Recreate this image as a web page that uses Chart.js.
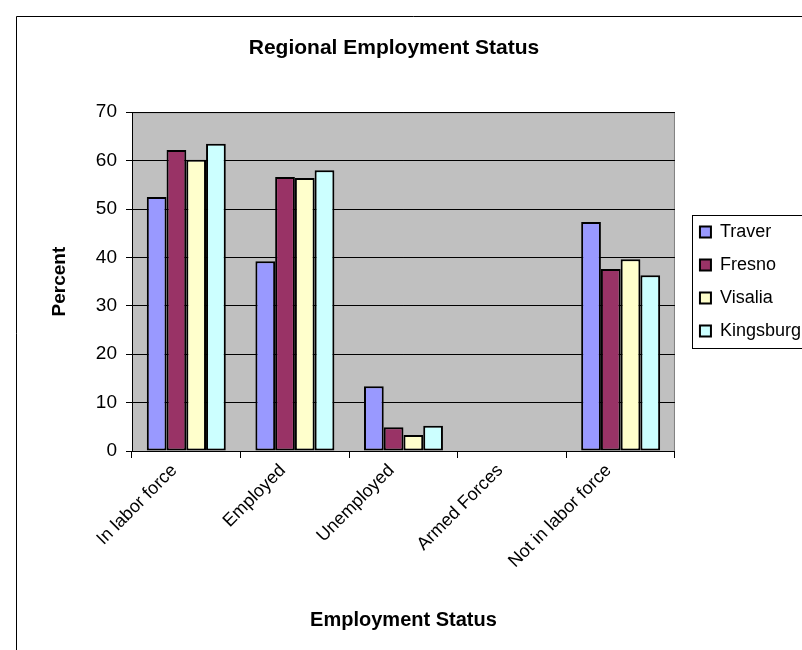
<!doctype html>
<html lang="en">
<head>
    <meta charset="utf-8">
    <title>Regional Employment Status</title>
    <script src="https://cdn.jsdelivr.net/npm/chart.js@4.4.1/dist/chart.umd.min.js"></script>
    <style>
        body {
            margin: 0;
            background: #fff;
        }

        #wrap {
            position: relative;
            width: 802px;
            height: 650px;
            overflow: hidden;
        }

        #chart {
            position: absolute;
            left: -23px;
            top: 0;
        }
    </style>
</head>
<body>
<div id="wrap">
    <canvas id="chart" width="834" height="650"></canvas>
</div>

<script>
    const categories = ['In labor force', 'Employed', 'Unemployed', 'Armed Forces', 'Not in labor force'];
    const traver = [52.5, 39.2, 13.4, 0, 47.3];
    const fresno = [62.2, 56.6, 4.9, 0, 37.6];
    const visalia = [60.2, 56.4, 3.3, 0, 39.6];
    const kingsburg = [63.5, 58.0, 5.2, 0, 36.3];
    const yTicks = {min: 0, max: 70, step: 10};

    const seriesNames = ['Traver', 'Fresno', 'Visalia', 'Kingsburg'];
    const seriesColors = ['#9999FF', '#993366', '#FFFFCC', '#CCFFFF'];
    const seriesValues = [traver, fresno, visalia, kingsburg];

    const shift = 23; // canvas sits 23px left of the page edge, so the title centres like the original

    Chart.defaults.font.family = "'Liberation Sans', Arial, sans-serif";
    Chart.defaults.color = '#000';

    // grey plot area, the outer chart frame and the legend box
    const backdrop = {
        id: 'backdrop',
        beforeDraw(chart) {
            const ctx = chart.ctx;
            const a = chart.chartArea;
            ctx.save();
            ctx.fillStyle = '#fff';
            ctx.fillRect(0, 0, chart.width, chart.height);
            ctx.strokeStyle = '#000';
            ctx.lineWidth = 1;
            ctx.beginPath();
            ctx.moveTo(shift + 16.5, chart.height);
            ctx.lineTo(shift + 16.5, 16.5);
            ctx.lineTo(chart.width, 16.5);
            ctx.stroke();
            ctx.fillStyle = '#C0C0C0';
            ctx.fillRect(a.left, a.top, a.right - a.left, a.bottom - a.top);
            ctx.strokeStyle = '#808080';
            ctx.strokeRect(a.left + 0.5, a.top + 0.5, a.right - a.left - 1, a.bottom - a.top);
            ctx.restore();
        },
        afterDraw(chart) {
            const lg = chart.legend;
            const pad = lg.options.labels.padding;
            const colH = lg.columnSizes[0].height;
            const top = (lg.top + pad + lg.bottom - colH) / 2;
            const ctx = chart.ctx;
            ctx.save();
            ctx.strokeStyle = '#000';
            ctx.lineWidth = 1;
            ctx.strokeRect(Math.round(lg.left + pad - 8) + 0.5, Math.round(top - 8) + 0.5,
                200, Math.round(colH - pad + 16));
            ctx.restore();
        }
    };

    const datasets = seriesNames.map(function (name, i) {
        return {
            label: name,
            data: seriesValues[i],
            yAxisID: 'y',
            backgroundColor: seriesColors[i],
            borderColor: '#000',
            borderWidth: 2,
            borderSkipped: false,
            categoryPercentage: 4 / 5.5,
            barPercentage: 1
        };
    });

    const config = {
        type: 'bar',
        data: {
            labels: categories,
            datasets: datasets
        },
        options: {
            responsive: false,
            animation: false,
            devicePixelRatio: 1,
            layout: {
                padding: 0
            },
            plugins: {
                title: {
                    display: true,
                    text: 'Regional Employment Status',
                    color: '#000',
                    font: {size: 21, weight: 'bold'},
                    padding: {top: 36, bottom: 51}
                },
                legend: {
                    position: 'right',
                    fullSize: false,
                    labels: {
                        boxWidth: 11,
                        boxHeight: 11,
                        padding: 15,
                        color: '#000',
                        font: {size: 18}
                    }
                },
                tooltip: {enabled: false}
            },
            scales: {
                x: {
                    grid: {
                        display: true,
                        drawOnChartArea: false,
                        drawTicks: true,
                        tickLength: 7,
                        color: '#000',
                        offset: true
                    },
                    border: {display: true, color: '#000'},
                    ticks: {
                        color: '#000',
                        font: {size: 18},
                        minRotation: 45,
                        maxRotation: 45,
                        padding: 2,
                        labelOffset: -12
                    },
                    title: {
                        display: true,
                        text: 'Employment Status',
                        color: '#000',
                        font: {size: 20, weight: 'bold'},
                        padding: {top: 0, bottom: 18}
                    },
                    afterFit: function (scale) {
                        scale.height = 199;
                    }
                },
                y: {
                    min: yTicks.min,
                    max: yTicks.max,
                    grid: {
                        color: '#000',
                        tickLength: 6,
                        drawTicks: true
                    },
                    border: {display: true, color: '#000'},
                    ticks: {
                        stepSize: yTicks.step,
                        color: '#000',
                        font: {size: 19},
                        padding: 9
                    },
                    title: {
                        display: true,
                        text: 'Percent',
                        color: '#000',
                        font: {size: 19, weight: 'bold'},
                        padding: {top: 71, bottom: 0}
                    },
                    afterFit: function (scale) {
                        scale.width = 132 + shift;
                    }
                },
                // empty gap between plot and legend
                ySpacer: {
                    position: 'right',
                    display: true,
                    grid: {display: false},
                    border: {display: false},
                    ticks: {display: false},
                    afterFit: function (scale) {
                        scale.width = 10;
                    }
                }
            }
        },
        plugins: [backdrop]
    };

    const chart = new Chart(document.getElementById('chart'), config);
</script>
</body>
</html>
